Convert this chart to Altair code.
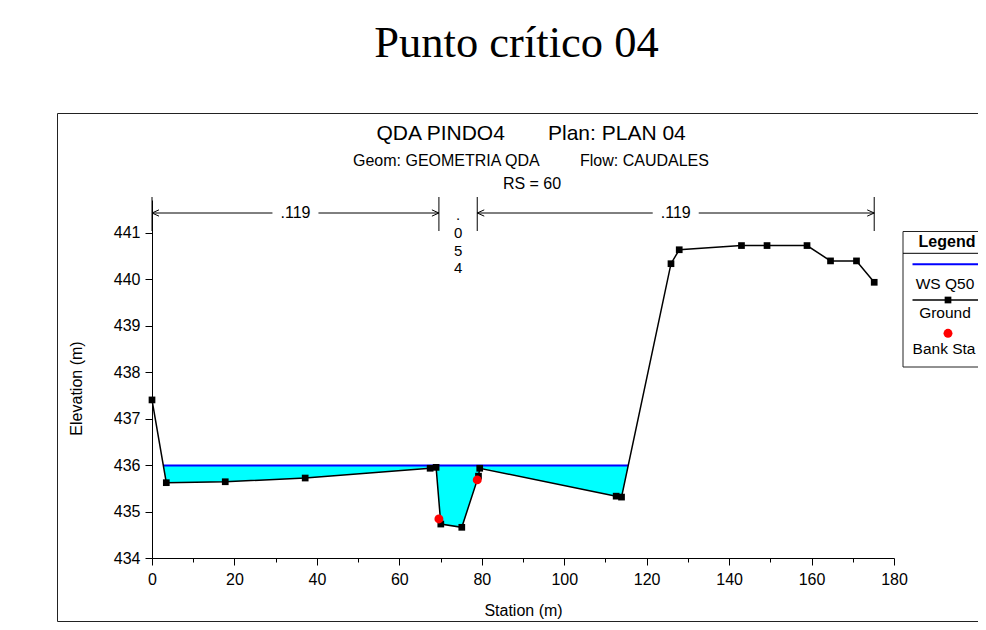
import altair as alt
import numpy as np
import pandas as pd

# ---------------- data ----------------
station = [0.0, 3.47, 17.77, 37.16, 67.47, 68.92, 70.06, 75.15, 79.2, 79.5,
           112.6, 113.9, 125.9, 127.9, 143.0, 149.2, 158.9, 164.6, 170.9, 175.2]
elevation = [437.40, 435.62, 435.64, 435.72, 435.93, 435.95, 434.73, 434.66, 435.76, 435.93,
             435.33, 435.31, 440.33, 440.63, 440.72, 440.72, 440.72, 440.39, 440.39, 439.93]
bank_station = [69.6, 78.9]
bank_elevation = [434.84, 435.68]
ws_label = "WS Q50"
ws_elevation = 435.99
n_values = [".119", ".054", ".119"]

main_title = "Punto crítico 04"
head_line1 = ["QDA PINDO4", "Plan: PLAN 04"]
head_line2 = ["Geom: GEOMETRIA QDA", "Flow: CAUDALES"]
head_line3 = "RS = 60"
legend_title = "Legend"
legend_items = [ws_label, "Ground", "Bank Sta"]

# ---------------- layout ----------------
W, H = 742, 358
PAD = {"left": 144, "top": 192, "right": 84, "bottom": 64}
X_DOM = [0, 180]
Y_DOM = [434, 441.7]
Y_TOP_TICK = 441
PX_PER_M = W / (X_DOM[1] - X_DOM[0])
SANS = "Liberation Sans"
SERIF = "Liberation Serif"

xs = alt.Scale(domain=X_DOM, nice=False, zero=False)
ys = alt.Scale(domain=Y_DOM, nice=False, zero=False)
one = pd.DataFrame({"k": [0]})

ground = pd.DataFrame({"station": station, "elev": elevation, "i": range(len(station))})
banks = pd.DataFrame({"station": bank_station, "elev": bank_elevation})


# water surface limits: where the ground crosses the water surface
def crossings(xv, yv, level):
    out = []
    for i in range(len(xv) - 1):
        a, b = yv[i] - level, yv[i + 1] - level
        if a * b < 0:
            t = a / (a - b)
            out.append(xv[i] + t * (xv[i + 1] - xv[i]))
    return out


cx = crossings(station, elevation, ws_elevation)
x_left, x_right = cx[0], cx[-1]
wx = [x_left] + [s for s in station if x_left < s < x_right] + [x_right]
wb = np.minimum(np.interp(wx, station, elevation), ws_elevation)
water = pd.DataFrame({"station": wx, "top": ws_elevation, "bottom": wb})
ws_line = pd.DataFrame({"station": [x_left, x_right], "elev": [ws_elevation] * 2})

major_x = "abs(datum.value % 20) < 0.001"
major_y = "abs(datum.value - round(datum.value)) < 0.001"

x_axis = alt.Axis(
    tickCount=18, format="d",
    labelExpr=f"{major_x} ? datum.label : ''",
    tickSize={"condition": {"test": major_x, "value": 7}, "value": 4},
    grid=False, domainColor="black", tickColor="black", labelColor="black",
    labelFont=SANS, labelFontSize=16, labelPadding=6, labelOverlap=False, labelFlush=False,
    title="Station (m)", titleFont=SANS, titleFontSize=16, titleFontWeight="normal",
    titleColor="black", titleY=57, titleBaseline="alphabetic",
)
y_axis = alt.Axis(
    tickCount=77, format="d",
    labelExpr=f"{major_y} ? datum.label : ''",
    tickSize={"condition": {"test": major_y, "value": 7}, "value": 4},
    tickOpacity={"condition": {"test": f"datum.value > {Y_TOP_TICK} + 0.001", "value": 0}, "value": 1},
    grid=False, domainColor="black", tickColor="black", labelColor="black",
    labelFont=SANS, labelFontSize=16, labelPadding=5, labelOverlap=False, labelFlush=False,
    title="Elevation (m)", titleFont=SANS, titleFontSize=16, titleFontWeight="normal",
    titleColor="black", titleX=-76, titleY=188, titleBaseline="middle", titleAlign="center",
    titleAngle=270,
)


def X(field):
    return alt.X(field, scale=xs, axis=x_axis)


def Y(field):
    return alt.Y(field, scale=ys, axis=y_axis)


layers = []

# water fill
layers.append(alt.Chart(water).mark_area(color="#00FFFF", opacity=1, interpolate="linear").encode(
    x=X("station:Q"), y=Y("top:Q"), y2="bottom:Q",
))
# water surface
layers.append(alt.Chart(ws_line).mark_line(color="#0000FF", strokeWidth=2).encode(
    x=X("station:Q"), y=Y("elev:Q"),
))
# ground line + markers
layers.append(alt.Chart(ground).mark_line(color="black", strokeWidth=1.5).encode(
    x=X("station:Q"), y=Y("elev:Q"), order="i:Q",
))
layers.append(alt.Chart(ground).mark_square(color="black", size=45, opacity=1).encode(
    x=X("station:Q"), y=Y("elev:Q"),
))
# bank stations
layers.append(alt.Chart(banks).mark_circle(color="#FF0000", size=80, opacity=1).encode(
    x=X("station:Q"), y=Y("elev:Q"),
))

# ---------------- Manning's n annotation ----------------
bounds = [station[0]] + bank_station + [station[-1]]
ARROW_Y, TICK_TOP, TICK_BOT = 13, -3, 31
GAP = 23 / PX_PER_M
seg_rows, left_heads, right_heads, hlabels, vlabels = [], [], [], [], []
for k, n in enumerate(n_values):
    a, b = bounds[k], bounds[k + 1]
    mid = (a + b) / 2
    if (b - a) * PX_PER_M > 60:
        seg_rows += [{"x": a, "x2": mid - GAP}, {"x": mid + GAP, "x2": b}]
        left_heads.append({"x": a})
        right_heads.append({"x": b})
        hlabels.append({"x": mid, "t": n})
    else:
        vlabels.append((mid, list(n)))

layers.append(alt.Chart(pd.DataFrame({"x": bounds})).mark_rule(color="black", strokeWidth=1).encode(
    x=X("x:Q"), y=alt.value(TICK_TOP), y2=alt.value(TICK_BOT)))
layers.append(alt.Chart(pd.DataFrame(seg_rows)).mark_rule(color="black", strokeWidth=1).encode(
    x=X("x:Q"), x2="x2:Q", y=alt.value(ARROW_Y)))
layers.append(alt.Chart(pd.DataFrame(right_heads)).mark_point(
    shape="M-1,-0.45L0,0L-1,0.45", size=196, filled=False, color="black", strokeWidth=1, opacity=1
).encode(x=X("x:Q"), y=alt.value(ARROW_Y)))
layers.append(alt.Chart(pd.DataFrame(left_heads)).mark_point(
    shape="M1,-0.45L0,0L1,0.45", size=196, filled=False, color="black", strokeWidth=1, opacity=1
).encode(x=X("x:Q"), y=alt.value(ARROW_Y)))
layers.append(alt.Chart(pd.DataFrame(hlabels)).mark_text(
    font=SANS, fontSize=16, color="black", baseline="middle", align="center"
).encode(x=X("x:Q"), y=alt.value(ARROW_Y), text="t:N"))
for mid, chars in vlabels:
    layers.append(alt.Chart(pd.DataFrame({"x": [mid]})).mark_text(
        text=chars, font=SANS, fontSize=15, lineHeight=17.8, color="black",
        baseline="alphabetic", align="center"
    ).encode(x=X("x:Q"), y=alt.value(20)))


# ---------------- decorations (pixel layout) ----------------
def text_at(txt, x, y, size, font=SANS, weight="normal", align="center"):
    return alt.Chart(one).mark_text(
        text=txt, font=font, fontSize=size, fontWeight=weight, align=align,
        baseline="alphabetic", color="black"
    ).encode(x=alt.value(x), y=alt.value(y))


def hrule(x1, x2, y, color="black", width=1):
    return alt.Chart(one).mark_rule(color=color, strokeWidth=width).encode(
        x=alt.value(x1), x2=alt.value(x2), y=alt.value(y))


# outer frame
layers.append(alt.Chart(one).mark_rect(fill="transparent", stroke="#222222", strokeWidth=1).encode(
    x=alt.value(-94.5), x2=alt.value(900), y=alt.value(-86.5), y2=alt.value(421.5)))

layers.append(text_at(main_title, 364.5, -143, 44.5, font=SERIF))
layers.append(text_at(head_line1[0], 224.5, -60, 21, align="left"))
layers.append(text_at(head_line1[1], 396, -60, 21, align="left"))
layers.append(text_at(head_line2[0], 201, -34.5, 16, align="left"))
layers.append(text_at(head_line2[1], 428, -34.5, 16, align="left"))
layers.append(text_at(head_line3, 380, -11.5, 16))

# legend box
LX = 796
TX = 793
layers.append(alt.Chart(one).mark_rect(fill="white", stroke="#222222", strokeWidth=1).encode(
    x=alt.value(751), x2=alt.value(900), y=alt.value(31.5), y2=alt.value(167)))
layers.append(text_at(legend_title, TX + 2, 47.3, 16, weight="bold"))
layers.append(hrule(751, 900, 53.3))
layers.append(hrule(760.5, 900, 64.3, color="#0000FF", width=2))
layers.append(text_at(legend_items[0], TX, 89, 15.5))
layers.append(hrule(760.5, 900, 100, width=1.5))
layers.append(alt.Chart(one).mark_square(color="black", size=45, opacity=1).encode(
    x=alt.value(LX), y=alt.value(100)))
layers.append(text_at(legend_items[1], TX, 118, 15.5))
layers.append(alt.Chart(one).mark_circle(color="#FF0000", size=80, opacity=1).encode(
    x=alt.value(LX), y=alt.value(133.3)))
layers.append(text_at(legend_items[2], TX - 1, 153.5, 15.5))

chart = alt.layer(*layers).properties(
    width=W, height=H,
    autosize=alt.AutoSizeParams(type="none"),
    padding=PAD,
    background="white",
).configure_view(strokeWidth=0)

chart.save("out.html", embed_options={"renderer": "svg", "actions": False})
